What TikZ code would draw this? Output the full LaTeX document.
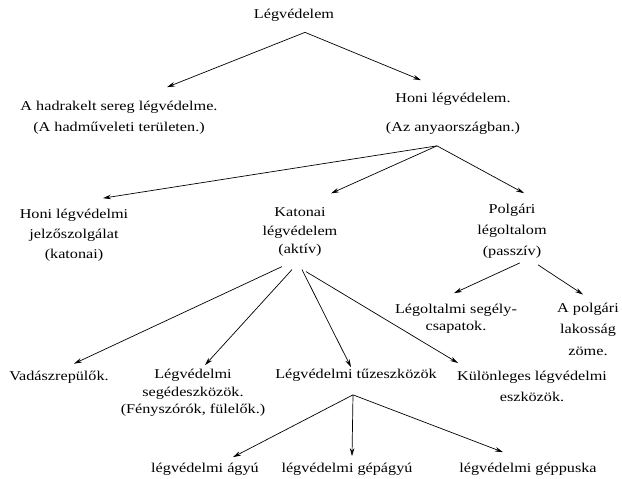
\documentclass[tikz,border=0pt]{standalone}
\usepackage{fontspec}
\setmainfont{Liberation Serif}[FakeStretch=1.2]
\usetikzlibrary{arrows.meta}

\tikzset{
  lbl/.style={align=center,inner sep=0pt,font=\fontsize{13.5}{18.5}\selectfont},
  arr/.style={line width=0.7pt,-{Stealth[length=8pt,width=4.5pt]}}
}

\begin{document}
\begin{tikzpicture}[x=1pt,y=-1pt,every node/.style={lbl}]
\useasboundingbox (0,0) rectangle (622,479);
\draw (294,15) node (root) {Légvédelem};
\draw (119,117.5) node (had) [font=\fontsize{13.5}{21}\selectfont] {A hadrakelt sereg légvédelme.\\(A hadműveleti területen.)};
\draw (453,113.5) node (honi) [font=\fontsize{13.5}{29}\selectfont] {Honi légvédelem.\\(Az anyaországban.)};
\draw (root.south) ++(11,11) -- ([shift={(48,-13.5)}]had.north) [arr];
\draw (root.south) ++(11,11) -- ([shift={(-32,-12.5)}]honi.north) [arr];
\draw (74,235) node (jel) [font=\fontsize{13.5}{20}\selectfont] {Honi légvédelmi\\jelzőszolgálat\\(katonai)};
\draw (300,232) node (kat) {Katonai\\légvédelem\\(aktív)};
\draw (512,231.5) node (pol) [font=\fontsize{13.5}{21}\selectfont] {Polgári\\légoltalom\\(passzív)};
\draw (honi.south) ++(-16,11.5) -- ([shift={(29,-10.5)}]jel.north) [arr];
\draw (honi.south) ++(-16,11.5) -- ([shift={(31,-14)}]kat.north) [arr];
\draw (honi.south) ++(-16,11.5) -- ([shift={(12,-11)}]pol.north) [arr];
\draw (456,318.5) node (segcs) [font=\fontsize{13.5}{17}\selectfont] {Légoltalmi segély-\\csapatok.};
\draw (588,329) node (lak) [font=\fontsize{13.5}{21.5}\selectfont] {A polgári\\lakosság\\zöme.};
\draw (pol.south) ++(8,4) -- ([shift={(-2,-10.5)}]segcs.north) [arr];
\draw (pol.south) ++(26,6) -- ([shift={(-5,-8)}]lak.north) [arr];
\draw (59,377) node (vad) {Vadászrepülők.};
\draw (193,393) node (seged) [font=\fontsize{13.5}{17.5}\selectfont] {Légvédelmi\\segédeszközök.\\(Fényszórók, fülelők.)};
\draw (356,375) node (tuz) {Légvédelmi tűzeszközök};
\draw (532,386) node (kul) [font=\fontsize{13.5}{21}\selectfont] {Különleges légvédelmi\\eszközök.};
\draw (kat.south) ++(-18,10) -- ([shift={(15,-7)}]vad.north) [arr];
\draw (kat.south) ++(-8,13) -- ([shift={(12,-4)}]seged.north) [arr];
\draw (kat.south) ++(2,13) -- ([shift={(-5,-1.5)}]tuz.north) [arr];
\draw (kat.south) ++(6,15) -- ([shift={(-74,-7.5)}]kul.north) [arr];
\draw (205,469) node (agyu) {légvédelmi ágyú};
\draw (347,469) node (gepagyu) {légvédelmi gépágyú};
\draw (528,469) node (geppuska) {légvédelmi géppuska};
\draw (tuz.south) ++(-3,13.5) -- ([shift={(28,-5.5)}]agyu.north) [arr];
\draw (tuz.south) ++(-3,13.5) -- ([shift={(5,-6.5)}]gepagyu.north) [arr];
\draw (tuz.south) ++(-3,13.5) -- ([shift={(-25,-10.5)}]geppuska.north) [arr];
\end{tikzpicture}
\end{document}
